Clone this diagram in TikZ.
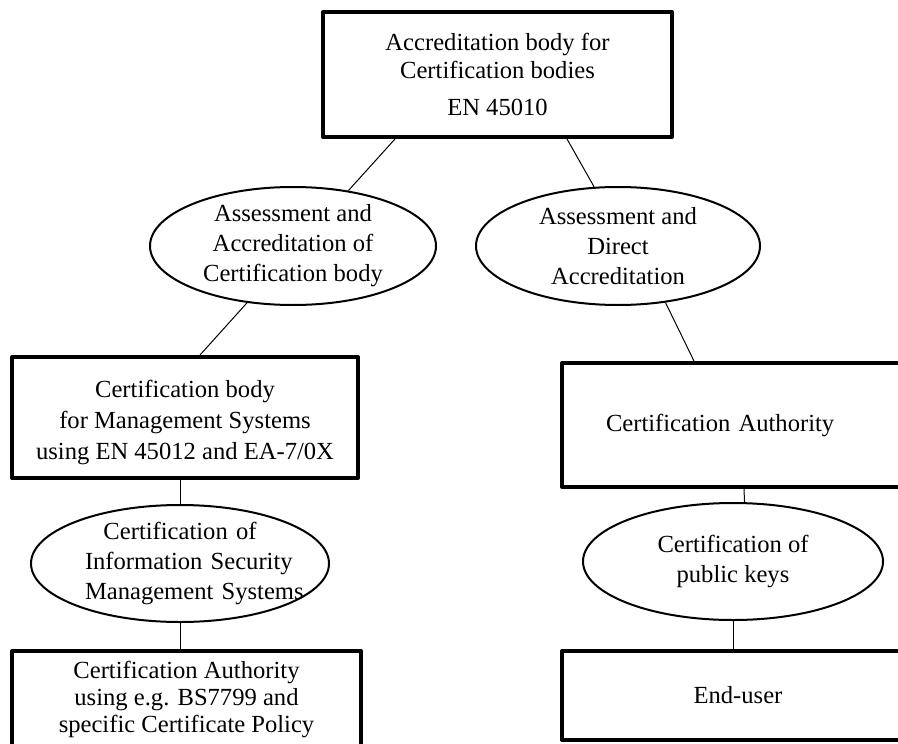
\documentclass[tikz,border=0pt]{standalone}
\usepackage{fontspec}
\setmainfont{Liberation Serif}
\usetikzlibrary{shapes.geometric}

\begin{document}
\begin{tikzpicture}[
    x=0.5pt, y=-0.5pt,
    every node/.style={font=\fontsize{12.3}{15}\selectfont},
    box/.style={draw, rectangle, line width=2pt, line join=round, inner sep=0pt, align=center},
    oval/.style={draw, ellipse, line width=1pt, inner sep=0pt, align=center},
    link/.style={line width=0.5pt},
]
\useasboundingbox (0,0) rectangle (898,743);
\clip (0,0) rectangle (898,743);

% ---- Top: accreditation body ----
\node[box, minimum width=174.5pt, minimum height=62.5pt, font=\fontsize{12.3}{14}\selectfont] (accbody) at (497.5,74.5)
    {Accreditation body for\\Certification bodies\\[4.5pt]EN 45010};

% ---- Left branch ----
\node[oval, minimum width=143pt, minimum height=59pt] (assessleft) at (293,246)
    {Assessment and\\Accreditation of\\Certification body};
\node[box, minimum width=173pt, minimum height=60.5pt, font=\fontsize{12.3}{15.5}\selectfont] (cbody) at (185,417.5)
    {\rule{0pt}{14pt}Certification body\\for Management Systems\\using EN 45012 and EA-7/0X};
\node[oval, minimum width=149pt, minimum height=58.5pt, text width=95pt] (certisms) at (180,563.5)
    {\mbox{Certification of}\\\mbox{Information Security}\\\mbox{Management Systems}};
\node[box, minimum width=174.5pt, minimum height=48.5pt, font=\fontsize{12.3}{13.5}\selectfont] (causing) at (186.5,699.5)
    {Certification Authority\\using e.g. BS7799 and\\specific Certificate Policy};

% ---- Right branch ----
\node[oval, minimum width=142pt, minimum height=59pt] (assessright) at (618,246)
    {Assessment and\\Direct\\Accreditation};
\node[box, minimum width=176pt, minimum height=62pt, text width=132pt, align=left] (cauth) at (738,425)
    {Certification Authority};
\node[oval, minimum width=150pt, minimum height=58.5pt] (certkeys) at (733,561.5)
    {Certification of\\public keys};
\node[box, minimum width=176pt, minimum height=44.5pt] (enduser) at (738,695.5) {End-user};

% ---- Connectors ----
\draw[link] ([xshift=-51.25pt]accbody.south) -- (assessleft.45);
\draw[link] ([xshift=34.75pt]accbody.south) -- (assessright.112);
\draw[link] (assessleft.231) -- ([xshift=7.5pt]cbody.north);
\draw[link] (cbody.south -| certisms.north) -- (certisms.north);
\draw[link] (certisms.south) -- (certisms.south |- causing.north);
\draw[link] (assessright.310) -- ([xshift=-22pt]cauth.north);
\draw[link] ([xshift=3pt]cauth.south) -- (certkeys.79);
\draw[link] (certkeys.south) -- (certkeys.south |- enduser.north);

\end{tikzpicture}
\end{document}
